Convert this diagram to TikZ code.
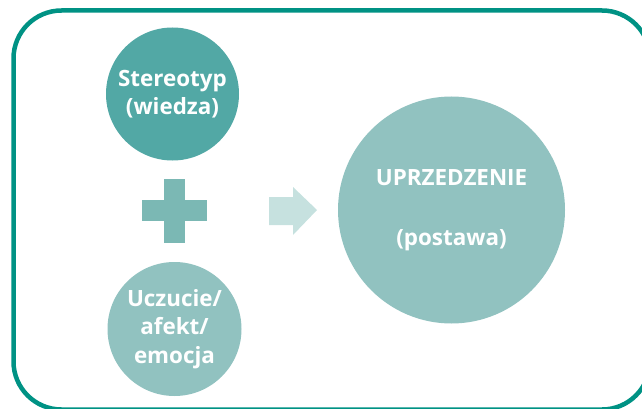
\documentclass[tikz,border=0pt]{standalone}
\usepackage{fontspec}
\setmainfont{Open Sans}
\definecolor{frameteal}{RGB}{0,146,132}
\definecolor{darkcirc}{RGB}{82,168,165}
\definecolor{pluscol}{RGB}{123,184,180}
\definecolor{arrowcol}{RGB}{198,225,223}
\definecolor{lightcirc}{RGB}{145,194,192}
\begin{document}
\begin{tikzpicture}[x=1pt,y=-1pt,
  circ/.style={circle,inner sep=0pt,text=white,align=center,
    font=\fontsize{22.4}{28.5}\selectfont\bfseries},
]
\useasboundingbox (0,0) rectangle (642,409);
\clip (0,0) rectangle (642,409);
\draw[frameteal,line width=4.5pt,rounded corners=48pt] (13.5,10.5) rectangle (650,409.5);
\node[circ,fill=darkcirc,minimum size=133pt] (st) at (172.5,94) {Stereotyp\\(wiedza)};
\node[circ,fill=lightcirc,minimum size=134pt] (uc) at (174.5,329) {Uczucie/\\afekt/\\emocja};
\node[circ,fill=lightcirc,minimum size=227pt] (up) at (451.5,210) {UPRZEDZENIE\\[31pt](postawa)};
\fill[pluscol] (164,178.5) rectangle (185,243);
\fill[pluscol] (142,200) rectangle (207,221);
\fill[arrowcol] (269,197) -- (293,197) -- (293,187) -- (317,210) -- (293,235) -- (293,225) -- (269,225) -- cycle;
\end{tikzpicture}
\end{document}
